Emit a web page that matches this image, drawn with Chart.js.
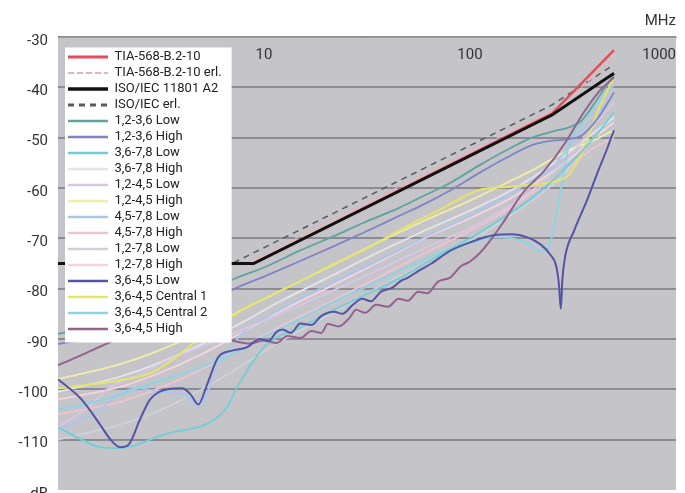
<!DOCTYPE html>
<html>
<head>
<meta charset="utf-8">
<script src="https://cdn.jsdelivr.net/npm/chart.js@4/dist/chart.umd.min.js"></script>
<style>
  html, body { margin: 0; padding: 0; background: #fff; overflow: hidden; }
  #wrap { width: 685px; height: 493px; }
</style>
</head>
<body>
<div id="wrap"><canvas id="chart" width="685" height="493"></canvas></div>
<script>
const xTicks = [1, 10, 100, 1000]
const yTicks = [-120, -110, -100, -90, -80, -70, -60, -50, -40, -30]

const seriesLabels = [
  'TIA-568-B.2-10', 'TIA-568-B.2-10 erl.', 'ISO/IEC 11801 A2', 'ISO/IEC erl.',
  '1,2-3,6 Low', '1,2-3,6 High', '3,6-7,8 Low', '3,6-7,8 High',
  '1,2-4,5 Low', '1,2-4,5 High', '4,5-7,8 Low', '4,5-7,8 High',
  '1,2-7,8 Low', '1,2-7,8 High', '3,6-4,5 Low', '3,6-4,5 Central 1',
  '3,6-4,5 Central 2', '3,6-4,5 High'
]

// [MHz, dB]
const tiaLimit = [[1, -75], [8.9, -75], [250, -45.2], [500, -32.6]]
const tiaErl = [[1, -75], [8, -75], [250, -44.7], [500, -34.5]]
const isoLimit = [[1, -75], [8.9, -75], [250, -45.5], [500, -37.2]]
const isoErl = [[1, -75], [7, -75], [250, -43.5], [500, -35.5]]

const p1236Low = [[1, -89], [1.5, -87.5], [2, -86.3], [3, -84.2], [4, -82.5], [5.5, -80.3], [7.4, -77.8], [10, -75.8], [15, -72.4], [22, -69.5], [30, -67], [45, -64], [60, -61.5], [80, -59], [111, -55.5], [150, -52.5], [200, -50], [250, -48.8], [300, -48], [350, -46.5], [420, -42], [500, -37.5]]
const p1236High = [[1, -91], [1.5, -89.8], [2, -88.6], [3, -86.8], [4, -85.2], [5.5, -82.6], [7.4, -79.8], [10, -77.6], [15, -74.5], [22, -71.5], [30, -69], [45, -65.6], [60, -63.2], [80, -60.5], [111, -57], [150, -54], [200, -51.5], [250, -50.6], [300, -50.3], [350, -49.5], [420, -46], [500, -41]]
const p3678Low = [[1, -107.5], [1.3, -110], [1.6, -111.5], [2, -111.7], [2.5, -110.8], [3, -109.5], [3.6, -108.5], [4.5, -107.8], [5.5, -106.5], [6.6, -103.6], [7.4, -99.6], [8.3, -96.2], [10, -91.6], [12, -89.3], [14, -88.3], [20, -85], [30, -81.5], [45, -78], [70, -73.5], [100, -70], [150, -65.5], [200, -62], [300, -55.5], [400, -50], [500, -45]]
const p3678High = [[1, -100.5], [2, -97.5], [3, -95], [5, -91], [8, -86.5], [12, -82.5], [20, -78], [35, -73], [60, -68.5], [100, -64.5], [150, -61], [200, -58], [300, -53], [400, -49], [500, -46]]
const p1245Low = [[1, -107.5], [1.4, -103.6], [1.8, -99.5], [2.5, -97], [3.3, -94.5], [5, -91.5], [8, -88], [12, -85], [20, -81], [35, -76.5], [60, -72], [100, -68], [150, -64], [200, -60.5], [300, -54], [400, -47.5], [500, -43]]
const p1245High = [[1, -98], [2, -95], [3, -92.5], [5, -88.5], [8, -84], [12, -80.5], [20, -76], [35, -71], [60, -66.5], [100, -62.5], [150, -59], [200, -56.5], [300, -52.5], [400, -50.5], [500, -48.5]]
const p4578Low = [[1, -108], [1.3, -106], [1.6, -104], [2, -100.8], [2.5, -99.8], [3.2, -100.6], [4.2, -101.2], [4.8, -103.6], [5.4, -100], [6, -95], [6.9, -91.6], [8, -88.5], [10, -86], [15, -82], [25, -77.5], [40, -73.5], [70, -68.5], [100, -65.5], [150, -61.5], [200, -58.5], [250, -56], [300, -52], [400, -46], [500, -42]]
const p4578High = [[1, -105], [2, -102.5], [3, -100], [5, -96], [8, -91.5], [12, -87.5], [20, -83], [35, -78], [60, -73], [100, -68.5], [150, -64.5], [200, -61], [300, -56], [400, -52], [500, -50]]
const p1278Low = [[1, -110], [2, -107], [3, -104.5], [5, -100], [8, -95], [12, -90.5], [20, -85.5], [35, -80], [60, -75], [100, -70.5], [150, -66], [200, -62.5], [300, -56.5], [400, -50], [500, -45.5]]
const p1278High = [[1, -102], [2, -99.5], [3, -97], [5, -93], [8, -88.5], [12, -84.5], [20, -80], [35, -75], [60, -70], [100, -66], [150, -62.5], [200, -59.5], [300, -54.5], [400, -50], [500, -47]]
const p3645Low = [[1, -98], [1.3, -102], [1.6, -107], [1.8, -110], [2, -111.5], [2.2, -111], [2.5, -106], [2.8, -102], [3.4, -100], [4, -99.8], [4.4, -101], [4.8, -103], [5.3, -99], [6, -93.6], [7, -92.3], [8.3, -91.6], [9.5, -90], [10.5, -90.4], [11.5, -88.6], [12.3, -88.1], [13.5, -88.8], [15, -86.9], [17, -87.2], [19, -85.4], [22, -84.6], [24, -85], [27, -83.2], [30, -82], [33, -82.5], [37, -80.6], [42, -79.8], [46, -78.5], [50, -77.8], [56, -76.5], [65, -75], [80, -72.5], [100, -70.8], [130, -69.4], [160, -69.2], [190, -69.8], [220, -71.2], [245, -73.2], [262, -75.5], [270, -79], [276, -84], [281, -78], [290, -73.5], [320, -68.5], [370, -62.4], [420, -56.5], [460, -52.5], [500, -48.5]]
const p3645Central1 = [[1, -99.8], [1.6, -98.8], [2, -98.2], [2.8, -96.8], [3.5, -94.5], [4.5, -91], [6, -87.5], [7.4, -84.9], [10, -82], [15, -78.5], [22, -75], [30, -72.5], [45, -68.5], [70, -64.5], [111, -60.4], [150, -59.8], [200, -59.3], [250, -58.8], [300, -57.5], [350, -53], [420, -44.5], [500, -38]]
const p3645Central2 = [[1, -104], [1.5, -102.5], [2, -101], [3, -98.5], [4, -97], [5, -95.5], [7, -93], [10, -89.5], [15, -86], [22, -82.5], [30, -80], [45, -76.5], [70, -73], [100, -71], [130, -69.8], [160, -70], [190, -71], [220, -72.5], [240, -72], [255, -68], [276, -60.4], [298, -52.5], [350, -47], [420, -43], [500, -39.5]]
const p3645High = [[1, -95.2], [1.3, -93.2], [1.6, -91.5], [2, -89.8], [2.6, -88.4], [3.5, -88], [4.5, -88.6], [5.5, -89.4], [6.5, -90], [7.5, -90.6], [8.5, -90.9], [10, -90.3], [11.5, -90.8], [13, -89.4], [15, -89.8], [17, -88.4], [19, -88.8], [20.4, -87], [23, -87.5], [26, -85.8], [28, -84.2], [31, -84.8], [35, -83.2], [40, -83.6], [45, -82], [50, -82.4], [56, -80.6], [62, -80.9], [70, -78.6], [80, -77.8], [90, -75.6], [100, -74.6], [111, -73], [125, -70.5], [144, -67], [180, -61], [230, -56.5], [290, -51], [350, -45.5], [420, -41], [500, -38]]

const seriesData = [
  tiaLimit, tiaErl, isoLimit, isoErl,
  p1236Low, p1236High, p3678Low, p3678High,
  p1245Low, p1245High, p4578Low, p4578High,
  p1278Low, p1278High, p3645Low, p3645Central1,
  p3645Central2, p3645High
]

const seriesColors = [
  '#e64b57', '#eab0b8', '#111111', '#5a5a5e',
  '#5fa3a0', '#7e84c6', '#6fcfd8', '#e4e4ec',
  '#d9c6e6', '#f0eea6', '#a9c6ee', '#efc3cf',
  '#cfd0da', '#f5d3df', '#5454a6', '#e4e46c',
  '#8ad4e6', '#94628f'
]
const seriesWidths = [2.5, 1.5, 3, 1.5, 1.8, 1.8, 1.8, 1.8, 1.8, 1.8, 1.8, 1.8, 1.8, 1.8, 2, 2, 1.8, 2]
const legendWidths = [3, 2, 3.5, 3, 2.3, 2.3, 2.3, 2.3, 2.3, 2.3, 2.3, 2.3, 2.3, 2.3, 2.5, 2.5, 2.3, 2.5]
const seriesDashes = [[], [6, 3], [], [6, 5], [], [], [], [], [], [], [], [], [], [], [], [], [], []]
const seriesOrder = [1, 2, 0, 3, 5, 5, 6, 8, 7, 8, 7, 8, 8, 8, 4, 6, 6, 4]

const tickFont = { family: 'Roboto, "Noto Sans", sans-serif', size: 15 }
const legendFont = { family: 'Roboto, "Noto Sans", sans-serif', size: 13 }

const plotBackground = {
  id: 'plotBackground',
  beforeDraw(chart) {
    const { ctx, chartArea: a } = chart
    ctx.save()
    ctx.fillStyle = '#c5c5c9'
    ctx.fillRect(a.left, a.top, a.right - a.left, a.bottom - a.top)
    ctx.restore()
  }
}

// legend sits inside the plot, on top of the lines, on a white box
const legendInside = {
  id: 'legendInside',
  afterInit(chart) {
    const legend = chart.legend
    legend._layers = () => [{
      z: 10,
      draw() {
        const ctx = chart.ctx
        const rows = legend.legendItems.length
        ctx.save()
        ctx.fillStyle = '#fff'
        ctx.fillRect(legend.left, legend.top, legend.width, rows * 16 + 7)
        ctx.restore()
        legend.draw()
      }
    }]
  },
  afterLayout(chart) {
    const legend = chart.legend
    const a = chart.chartArea
    legend.left = a.left + 7
    legend.top = a.top + 10.5
    legend.right = legend.left + legend.width
    legend.bottom = a.bottom
  }
}

const datasets = seriesData.map((points, i) => ({
  label: seriesLabels[i],
  data: points.map(([x, y]) => ({ x, y })),
  borderColor: seriesColors[i],
  backgroundColor: seriesColors[i],
  borderWidth: seriesWidths[i],
  borderDash: seriesDashes[i],
  order: seriesOrder[i],
  pointRadius: 0,
  pointHoverRadius: 0,
  fill: false,
  tension: 0,
  cubicInterpolationMode: i < 4 ? 'default' : 'monotone'
}))

new Chart(document.getElementById('chart'), {
  type: 'line',
  data: { datasets },
  plugins: [plotBackground, legendInside],
  options: {
    responsive: false,
    devicePixelRatio: 1,
    animation: false,
    events: [],
    layout: { padding: { top: 0, left: 0, right: 0, bottom: 3 } },
    scales: {
      x: {
        type: 'logarithmic',
        position: 'top',
        min: 1,
        max: 1000,
        afterBuildTicks: (scale) => { scale.ticks = xTicks.map(value => ({ value })) },
        afterFit: (scale) => { scale.height = 37 },
        grid: { drawOnChartArea: false, drawTicks: false },
        border: { color: '#9a9aa0', width: 1 },
        ticks: {
          mirror: true,
          padding: 9,
          align: 'inner',
          maxRotation: 0,
          autoSkip: false,
          color: '#333',
          font: tickFont,
          callback: (v) => v === 1 ? '' : String(v)
        },
        title: {
          display: true,
          text: 'MHz',
          align: 'end',
          color: '#333',
          font: tickFont,
          padding: { top: 12.5, bottom: 0 }
        }
      },
      y: {
        min: -120,
        max: -30,
        afterBuildTicks: (scale) => { scale.ticks = yTicks.map(value => ({ value })) },
        afterFit: (scale) => {
          scale.width = 58
          scale.paddingTop = 0
          scale.paddingBottom = 0
        },
        grid: {
          color: (c) => (c.tick && c.tick.value === -120) ? 'rgba(0,0,0,0)' : '#8c8c92',
          lineWidth: 2,
          drawTicks: false
        },
        border: { display: false },
        ticks: {
          padding: 10,
          labelOffset: 4,
          color: '#333',
          font: tickFont,
          callback: (v) => v === -120 ? 'dB' : String(v)
        }
      }
    },
    plugins: {
      tooltip: { enabled: false },
      legend: {
        position: 'chartArea',
        align: 'start',
        labels: {
          usePointStyle: true,
          pointStyleWidth: 40,
          padding: 3,
          color: '#222',
          font: legendFont,
          generateLabels: (chart) => chart.data.datasets.map((ds, i) => ({
            text: ds.label,
            datasetIndex: i,
            strokeStyle: ds.borderColor,
            fillStyle: ds.borderColor,
            lineWidth: legendWidths[i],
            lineDash: ds.borderDash,
            pointStyle: 'line',
            hidden: false,
            fontColor: '#222'
          }))
        }
      }
    }
  }
})
</script>
</body>
</html>
